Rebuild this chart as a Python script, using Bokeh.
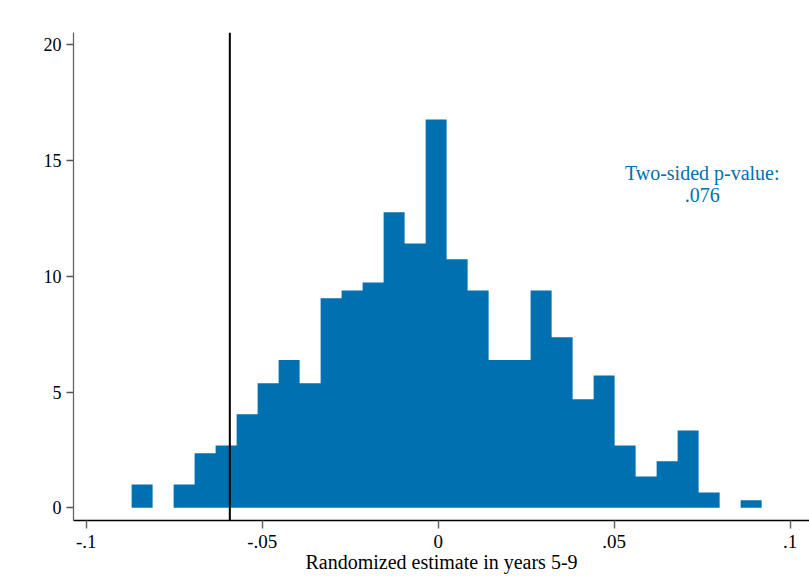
from bokeh.plotting import figure
from bokeh.models import Range1d, FixedTicker, Span
from bokeh.core.properties import value
from bokeh.embed import file_html
from bokeh.resources import INLINE

# Histogram of randomized (placebo) estimates, density scale
bin_start = -0.0871
bin_width = 0.005966
density = [1.0, 0.0, 1.0, 2.36, 2.69, 4.04, 5.38, 6.38, 5.38, 9.05,
           9.39, 9.73, 12.76, 11.42, 16.77, 10.73, 9.39, 6.38, 6.38, 9.39,
           7.37, 4.69, 5.71, 2.69, 1.35, 2.01, 3.34, 0.66, 0.0, 0.33]

actual_estimate = -0.0592
p_value_text = "Two-sided p-value:\n.076"
p_value_pos = (0.075, 14.0)

x_ticks = [-0.1, -0.05, 0.0, 0.05, 0.1]
x_tick_labels = ["-.1", "-.05", "0", ".05", ".1"]
y_ticks = [0, 5, 10, 15, 20]
x_title = "Randomized estimate in years 5-9"

BLUE = "#0070b0"
FONT = "Liberation Serif"

# Outline of the histogram as one stepped polygon, so adjacent bins
# are filled without anti-aliasing seams between them.
step_x = [bin_start]
step_y = [0.0]
for i, h in enumerate(density):
    left = bin_start + i * bin_width
    right = left + bin_width
    step_x += [left, right]
    step_y += [h, h]
step_x.append(bin_start + len(density) * bin_width)
step_y.append(0.0)

p = figure(width=809, height=578, output_backend="svg", toolbar_location=None,
           x_range=Range1d(-0.10361, 0.10548), y_range=Range1d(-0.55, 20.53),
           min_border_left=73, min_border_right=0, min_border_top=32,
           min_border_bottom=58)
p.outline_line_color = None
p.grid.visible = False
p.background_fill_color = "white"
p.border_fill_color = "white"

p.patch(x=step_x, y=step_y, fill_color=BLUE, line_color=None)

p.add_layout(Span(location=actual_estimate, dimension="height",
                  line_color="black", line_width=2))

p.text(x=[p_value_pos[0]], y=[p_value_pos[1]], text=[p_value_text],
       text_font=value(FONT), text_font_size="20px", text_color=BLUE,
       text_align="center", text_baseline="middle", text_line_height=1.0)

# x axis
xa = p.xaxis[0]
xa.ticker = FixedTicker(ticks=x_ticks)
xa.major_label_overrides = dict(zip(x_ticks, x_tick_labels))
xa.minor_tick_line_color = None
xa.axis_line_color = "black"
xa.axis_line_width = 1.3
xa.major_tick_line_color = "#666666"
xa.major_tick_line_width = 1.5
xa.major_tick_out = 8
xa.major_tick_in = 0
xa.major_label_standoff = 6
xa.major_label_text_font = FONT
xa.major_label_text_font_size = "19px"
xa.major_label_text_color = "black"
xa.axis_label = x_title
xa.axis_label_text_font = FONT
xa.axis_label_text_font_size = "20px"
xa.axis_label_text_font_style = "normal"
xa.axis_label_text_color = "black"
xa.axis_label_standoff = 0

# y axis
ya = p.yaxis[0]
ya.ticker = FixedTicker(ticks=y_ticks)
ya.minor_tick_line_color = None
ya.axis_line_color = "#666666"
ya.axis_line_width = 1.3
ya.major_tick_line_color = "#555555"
ya.major_tick_line_width = 1.5
ya.major_tick_out = 7
ya.major_tick_in = 0
ya.major_label_standoff = 5
ya.major_label_orientation = "horizontal"
ya.major_label_text_font = FONT
ya.major_label_text_font_size = "18px"
ya.major_label_text_color = "black"

open("out.html", "w").write(file_html(p, INLINE))
